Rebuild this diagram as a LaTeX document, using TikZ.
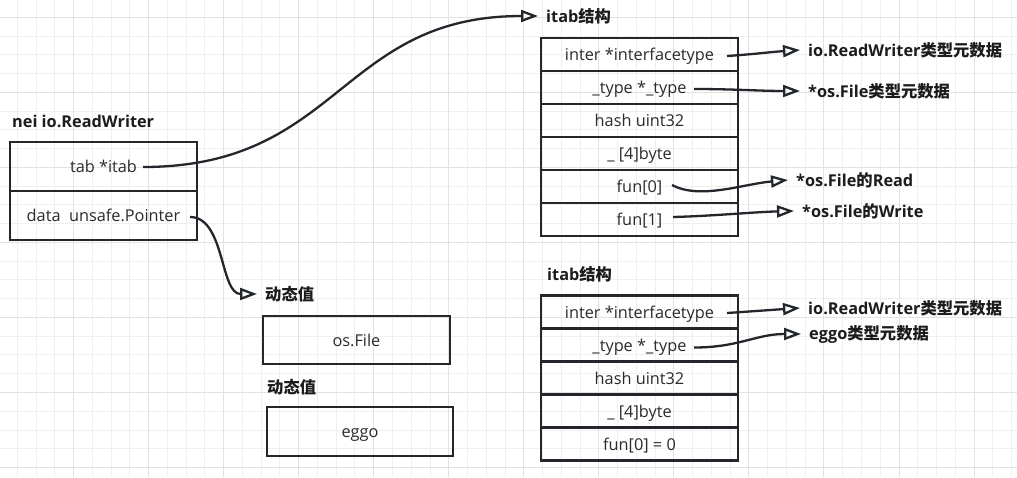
\documentclass[tikz,border=0pt]{standalone}
\usepackage{fontspec}
\setmainfont{Open Sans}
\newfontfamily\cjk{Noto Sans CJK SC}
\usepackage{tikz}
\usetikzlibrary{arrows.meta,positioning,calc,matrix}

\definecolor{boxline}{HTML}{23272C}
\definecolor{boxtext}{HTML}{2A2A2A}
\definecolor{labeltext}{HTML}{1C1C1C}
\definecolor{gridminor}{HTML}{EFEFEF}
\definecolor{gridmajor}{HTML}{E2E2E2}
\newcommand{\figfont}{\fontsize{16.3}{19.5}\selectfont}

\begin{document}
\begin{tikzpicture}[x=1pt,y=-1pt,
	field/.style={rectangle,draw=boxline,line width=2.4pt,outer sep=0pt,inner sep=0pt,
		minimum width=197pt,minimum height=33pt,text height=12pt,text depth=0pt,
		text=boxtext,font=\figfont},
	lbl/.style={anchor=west,inner xsep=8pt,inner ysep=0pt,text=labeltext,font=\figfont\bfseries},
	ptr/.style={draw=boxline,line width=2.3pt,-{Triangle[open,length=17pt,width=12pt]}},
	gridline/.style={draw=gridminor,line width=1pt}]

	\useasboundingbox (0,0) rectangle (1017,477);
	\fill[white] (0,0) rectangle (1017,477);

	% grid
	\foreach \k in {0,...,53}
		\draw[gridline] ({17.3+18.76*\k},0) -- ({17.3+18.76*\k},477);
	\foreach \k in {0,...,24}
		\draw[gridline] (0,{17.3+18.76*\k}) -- (1017,{17.3+18.76*\k});
	\foreach \k in {3,7,...,51}
		\draw[gridline,draw=gridmajor] ({17.3+18.76*\k},0) -- ({17.3+18.76*\k},477);
	\foreach \k in {0,4,...,24}
		\draw[gridline,draw=gridmajor] (0,{17.3+18.76*\k}) -- (1017,{17.3+18.76*\k});

	% nei io.ReadWriter
	\node[lbl] (nei) at (4,121) {nei io.ReadWriter};
	\node[field,minimum width=187pt,minimum height=49pt] (tab) at (103.5,166.5) {tab *itab};
	\node[field,minimum width=187pt,minimum height=49pt,below=0pt of tab] (data) {data~~unsafe.Pointer};

	% dynamic values
	\node[lbl] (dynA) at (257,294) {{\cjk 动态值}};
	\node[field,minimum width=187pt,minimum height=48pt] (osfile) at (356.5,340) {os.File};
	\node[lbl] (dynB) at (259,387) {{\cjk 动态值}};
	\node[field,minimum width=186pt,minimum height=49pt] (eggo) at (360,431.5) {eggo};

	% itab for *os.File
	\node[lbl] (itabA) at (538,16) {itab{\cjk 结构}};
	\matrix [matrix of nodes,nodes={field},row sep=-2.4pt] (A) at (639.5,137) {
		inter *interfacetype \\
		\_type *\_type \\
		hash uint32 \\
		\_ [4]byte \\
		fun[0] \\
		fun[1] \\
	};
	\node[lbl] (rwA) at (800,50) {io.ReadWriter{\cjk 类型元数据}};
	\node[lbl] (osA) at (800,91) {*os.File{\cjk 类型元数据}};
	\node[lbl] (readA) at (788,180) {*os.File{\cjk 的}Read};
	\node[lbl] (writeA) at (794,211) {*os.File{\cjk 的}Write};

	% itab for eggo
	\node[lbl] (itabB) at (539,274) {itab{\cjk 结构}};
	\matrix [matrix of nodes,nodes={field},row sep=-2.4pt] (B) at (639.5,378) {
		inter *interfacetype \\
		\_type *\_type \\
		hash uint32 \\
		\_ [4]byte \\
		fun[0] = 0 \\
	};
	\node[lbl] (rwB) at (800,308) {io.ReadWriter{\cjk 类型元数据}};
	\node[lbl] (eggoA) at (801,334) {eggo{\cjk 类型元数据}};

	% where the pointers leave the fields
	\coordinate (tabp) at ($(tab.center)+(39.5,0.5)$);
	\coordinate (datap) at ($(data.center)+(86.5,1.5)$);
	\coordinate (A1p) at ($(A-1-1.center)+(87.5,1.5)$);
	\coordinate (A2p) at ($(A-2-1.center)+(54.5,1.5)$);
	\coordinate (A5p) at ($(A-5-1.center)+(32.5,-1.5)$);
	\coordinate (A6p) at ($(A-6-1.center)+(33.5,-2.5)$);
	\coordinate (B1p) at ($(B-1-1.center)+(87.5,1)$);
	\coordinate (B2p) at ($(B-2-1.center)+(54.5,2.5)$);

	% pointers
	\draw[ptr] (tabp) .. controls +(197,0) and +(-198,0) .. (itabA.west);
	\draw[ptr] (datap) .. controls +(35,0) and +(-37,0) .. (dynA.west);
	\draw[ptr] (A1p) .. controls +(30,-2) and +(-30,2) .. (rwA.west);
	\draw[ptr] (A2p) .. controls +(40,0) and +(-40,0) .. (osA.west);
	\draw[ptr] (A5p) .. controls +(28,15) and +(-45,4) .. (readA.west);
	\draw[ptr] (A6p) .. controls +(40,-1) and +(-40,1) .. (writeA.west);
	\draw[ptr] (B1p) .. controls +(30,-2) and +(-30,2) .. (rwB.west);
	\draw[ptr] (B2p) .. controls +(45,0) and +(-45,0) .. (eggoA.west);

\end{tikzpicture}
\end{document}
